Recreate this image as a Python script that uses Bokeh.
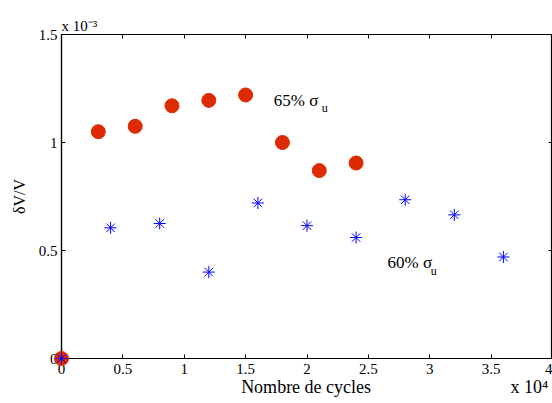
from bokeh.plotting import figure
from bokeh.models import LinearAxis, FixedTicker, Label, Range1d, Title
from bokeh.embed import file_html
from bokeh.resources import INLINE

# data (x in units of 1e4 cycles, y in units of 1e-3)
x65 = [0, 0.3, 0.6, 0.9, 1.2, 1.5, 1.8, 2.1, 2.4]
y65 = [0, 1.05, 1.075, 1.17, 1.195, 1.22, 1.0, 0.87, 0.905]
x60 = [0, 0.4, 0.8, 1.2, 1.6, 2.0, 2.4, 2.8, 3.2, 3.6]
y60 = [0, 0.605, 0.625, 0.40, 0.72, 0.615, 0.56, 0.735, 0.665, 0.47]
xticks = [0, 0.5, 1, 1.5, 2, 2.5, 3, 3.5, 4]
xticklabels = ["0", "0.5", "1", "1.5", "2", "2.5", "3", "3.5", "4"]
yticks = [0, 0.5, 1, 1.5]
yticklabels = ["0", "0.5", "1", "1.5"]
xlabel = "Nombre de cycles"
xexp = "x 10\u2074"
yexp = "x 10\u207b\u00b3"

FONT = "Liberation Serif"
NB = "\u00a0"

p = figure(width=552, height=403, output_backend="svg", toolbar_location=None,
           x_range=Range1d(0, 4), y_range=Range1d(0, 1.5),
           min_border_left=61, min_border_right=0, min_border_top=34, min_border_bottom=45)
p.background_fill_color = "white"
p.border_fill_color = "white"
p.grid.visible = False
p.outline_line_color = "black"
p.outline_line_width = 1.2

def style(ax, ticks, labels, show):
    ax.ticker = FixedTicker(ticks=ticks)
    ax.minor_tick_line_color = None
    ax.major_tick_in = 4
    ax.major_tick_out = 0
    ax.axis_line_color = "black"
    ax.axis_line_width = 1.2
    ax.major_tick_line_color = "black"
    ax.major_label_text_font = FONT
    ax.axis_label_text_font = FONT
    ax.axis_label_text_font_style = "normal"
    ax.axis_label_text_color = "black"
    if show:
        ax.major_label_overrides = {t: l for t, l in zip(ticks, labels)}
        ax.major_label_text_font_size = "15px"
        ax.major_label_text_color = "black"
    else:
        ax.major_label_overrides = {t: "" for t in ticks}
        ax.major_label_text_font_size = "0px"
        ax.major_label_text_color = None
        ax.major_label_standoff = 0
        ax.axis_label_standoff = 0

style(p.xaxis[0], xticks, xticklabels, True)
style(p.yaxis[0], yticks, yticklabels, True)
p.xaxis[0].major_label_standoff = 5
p.yaxis[0].major_label_standoff = 4
# axis label with the exponent note at its right end
p.xaxis[0].axis_label = NB * 39 + xlabel + NB * 31 + xexp
p.xaxis[0].axis_label_text_font_size = "18px"
p.xaxis[0].axis_label_standoff = 0
p.yaxis[0].axis_label = "δV/V"
p.yaxis[0].axis_label_text_font_size = "16px"
p.yaxis[0].axis_label_standoff = 8

top = LinearAxis()
style(top, xticks, xticklabels, False)
p.add_layout(top, "above")
right = LinearAxis()
style(right, yticks, yticklabels, False)
p.add_layout(right, "right")

p.add_layout(Title(text=yexp, align="left", text_font=FONT, text_font_size="15px",
                   text_font_style="normal", text_color="black", standoff=2), "above")

p.scatter(x65, y65, marker="circle", size=14, fill_color="#dd2a00",
          line_color="#dd2a00", level="overlay")
p.scatter(x60, y60, marker="asterisk", size=12, line_color="#0000ff",
          line_width=1, level="overlay")

def lab(x, y, t, size):
    p.add_layout(Label(x=x, y=y, text=t,
                       text_font=FONT, text_font_size=size, text_color="black",
                       text_baseline="alphabetic", text_align="left"))

lab(1.73, 1.194, "65% σ", "17px")
lab(2.12, 1.162, "u", "12px")
lab(2.656, 0.444, "60% σ", "17px")
lab(3.008, 0.403, "u", "12px")

open("out.html", "w").write(file_html(p, INLINE))
